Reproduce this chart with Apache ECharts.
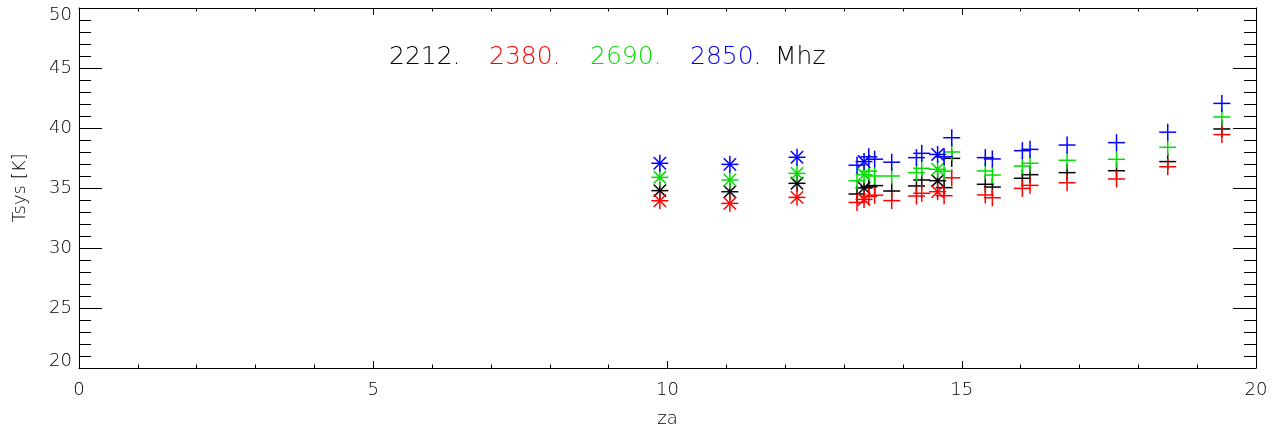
<!DOCTYPE html>
<html>
<head>
<meta charset="utf-8">
<script src="https://cdn.jsdelivr.net/npm/echarts@6/dist/echarts.min.js"></script>
<style>
html,body{margin:0;padding:0;background:#fff;}
#chart{width:1286px;height:435px;}
</style>
</head>
<body>
<div id="chart"></div>
<script>
// ---- data ----
var freqLabels = ['2212.', '2380.', '2690.', '2850.'];
var unitLabel = 'Mhz';
var xTickLabels = [0, 5, 10, 15, 20];
var yTickLabels = [20, 25, 30, 35, 40, 45, 50];

// asterisk-marked points
var zaStar = [9.87, 11.06, 12.20, 13.34, 14.59];
var star2212 = [34.78, 34.69, 35.39, 35.00, 35.61];
var star2380 = [33.94, 33.72, 34.22, 34.05, 34.69];
var star2690 = [35.89, 35.67, 36.22, 36.10, 36.56];
var star2850 = [37.06, 36.97, 37.56, 37.20, 37.80];

// plus-marked points
var zaPlus = [13.22, 13.42, 13.52, 13.81, 14.23, 14.32, 14.70, 14.83, 15.40, 15.52, 16.03, 16.16, 16.79, 17.63, 18.50, 19.42];
var plus2212 = [34.50, 35.10, 35.20, 34.75, 35.17, 35.67, 35.03, 37.47, 35.31, 35.08, 35.81, 36.11, 36.28, 36.44, 37.20, 39.92];
var plus2380 = [33.80, 34.30, 34.40, 33.95, 34.33, 34.56, 34.36, 35.85, 34.42, 34.19, 34.97, 35.22, 35.44, 35.75, 36.77, 39.45];
var plus2690 = [35.60, 36.40, 36.00, 36.00, 36.28, 36.64, 36.40, 38.00, 36.42, 36.08, 36.83, 37.06, 37.31, 37.39, 38.39, 40.92];
var plus2850 = [36.90, 37.60, 37.40, 37.15, 37.53, 37.89, 37.60, 39.19, 37.53, 37.42, 38.11, 38.22, 38.58, 38.78, 39.65, 42.05];

var colors = ['#000000', '#ff0000', '#00dd00', '#0000ff'];
var starSets = [star2212, star2380, star2690, star2850];
var plusSets = [plus2212, plus2380, plus2690, plus2850];

function pairs(xs, ys) { return xs.map(function (x, i) { return [x, ys[i]]; }); }

function markerRenderer(kind, color) {
  return function (params, api) {
    var p = api.coord([api.value(0), api.value(1)]);
    var h = 8.5, d = 6.2;
    var segs = [[[-h, 0], [h, 0]], [[0, -h], [0, h]]];
    if (kind === 'star') {
      segs.push([[-d, -d], [d, d]]);
      segs.push([[-d, d], [d, -d]]);
    }
    return {
      type: 'group',
      children: segs.map(function (s) {
        return {
          type: 'line',
          shape: { x1: p[0] + s[0][0], y1: p[1] + s[0][1], x2: p[0] + s[1][0], y2: p[1] + s[1][1] },
          style: { stroke: color, lineWidth: 1.5 }
        };
      })
    };
  };
}

var series = [];
for (var k = 0; k < 4; k++) {
  series.push({
    type: 'custom', name: freqLabels[k] + 's', xAxisIndex: 0, yAxisIndex: 0,
    renderItem: markerRenderer('star', colors[k]), data: pairs(zaStar, starSets[k]), silent: true
  });
  series.push({
    type: 'custom', name: freqLabels[k] + 'p', xAxisIndex: 0, yAxisIndex: 0,
    renderItem: markerRenderer('plus', colors[k]), data: pairs(zaPlus, plusSets[k]), silent: true
  });
}

var FONT = 'DejaVu Sans';
var lineBlack = { color: '#000', width: 1 };

function xAx(pos, labels) {
  return {
    type: 'value', position: pos, min: xTickLabels[0], max: xTickLabels[xTickLabels.length - 1], interval: 5,
    axisLine: { show: true, onZero: false, lineStyle: lineBlack },
    axisTick: { show: true, inside: true, length: 7, lineStyle: lineBlack },
    minorTick: { show: true, splitNumber: 5, length: 3.5, lineStyle: lineBlack },
    splitLine: { show: false },
    axisLabel: { show: labels, margin: 13, color: '#000', fontSize: 18, fontFamily: FONT, fontWeight: 200 },
    name: labels ? 'za' : '', nameLocation: 'middle', nameGap: 42,
    nameTextStyle: { color: '#000', fontSize: 18, fontFamily: FONT, fontWeight: 200 }
  };
}
function yAx(pos, labels) {
  return {
    type: 'value', position: pos, min: yTickLabels[0], max: yTickLabels[yTickLabels.length - 1], interval: 5,
    axisLine: { show: true, onZero: false, lineStyle: lineBlack },
    axisTick: { show: true, inside: true, length: 23, lineStyle: lineBlack },
    minorTick: { show: true, splitNumber: 5, length: 12, lineStyle: lineBlack },
    splitLine: { show: false },
    axisLabel: { show: labels, margin: 7, color: '#000', fontSize: 18, fontFamily: FONT, fontWeight: 200,
      verticalAlignMinLabel: 'bottom', verticalAlignMaxLabel: 'top', lineHeight: 14 },
    name: labels ? 'Tsys [K]' : '', nameLocation: 'middle', nameGap: 50,
    nameTextStyle: { color: '#000', fontSize: 18, fontFamily: FONT, fontWeight: 200 }
  };
}

var legendX = [389, 489, 590, 690, 775];
var legendColors = ['#000000', '#ff0000', '#00dd00', '#0000ff', '#000000'];
var legendTexts = freqLabels.concat([unitLabel]);
var graphics = legendTexts.map(function (t, i) {
  return {
    type: 'text', left: legendX[i], top: 45, silent: true,
    style: { text: t, fill: legendColors[i], font: '200 25px "DejaVu Sans"' }
  };
});

var chart = echarts.init(document.getElementById('chart'), null, { renderer: 'canvas' });
chart.setOption({
  animation: false,
  backgroundColor: '#ffffff',
  grid: { left: 79, right: 30, top: 8, bottom: 67, containLabel: false, show: false },
  xAxis: [xAx('bottom', true), xAx('top', false)],
  yAxis: [yAx('left', true), yAx('right', false)],
  series: series,
  graphic: graphics
});
</script>
</body>
</html>
